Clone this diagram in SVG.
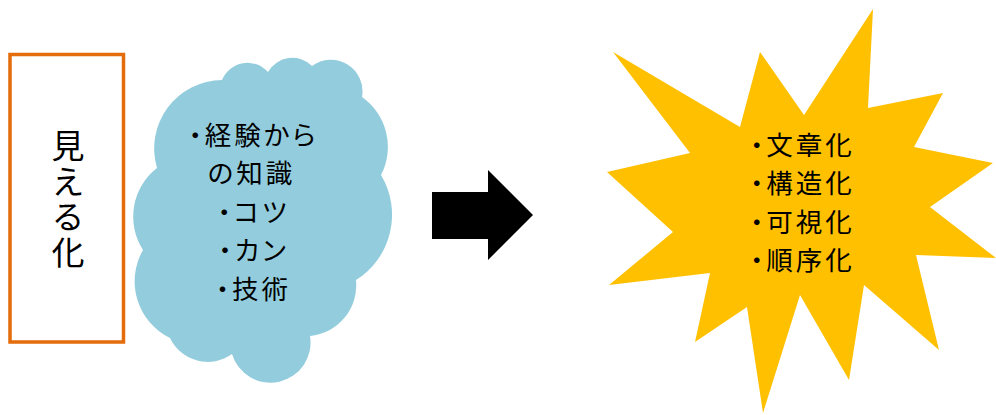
<svg xmlns="http://www.w3.org/2000/svg" width="996" height="415" viewBox="0 0 996 415">
<style>
.t{font-family:"Noto Sans CJK JP","Noto Sans CJK SC",sans-serif;fill:#000;font-feature-settings:"palt";}
.big{font-size:33px;}
.mid{font-size:26.5px;letter-spacing:3px;}
</style>
<rect width="996" height="415" fill="#fff"/>
<g id="mieruka">
<rect x="10" y="54.5" width="113.5" height="287.5" fill="#fff" stroke="#E46C0A" stroke-width="3.5"/>
<text class="t big" x="68" y="129" style="writing-mode:vertical-rl;letter-spacing:2.5px">見える化</text>
</g>
<g id="cloud">
<path fill="#93CDDD" d="M157,168 A68.5,68.5 0 0 1 222,80 A27.5,27.5 0 0 1 268,72 A27.9,27.9 0 0 1 312,66 A31.6,31.6 0 0 1 362,97 A61,61 0 0 1 381,175 A77,77 0 0 1 356,280 A51,51 0 0 1 310,336 A40.1,40.1 0 0 1 232,354 A41.6,41.6 0 0 1 170,338 A63,63 0 0 1 143,250 A61.6,61.6 0 0 1 157,168 Z"/>
<text class="t mid" text-anchor="middle"><tspan x="253.5" y="144.5">・経験から</tspan><tspan x="251.5" y="183">の知識</tspan><tspan x="253.5" y="221.5">・コツ</tspan><tspan x="253.5" y="260">・カン</tspan><tspan x="253.5" y="298.5">・技術</tspan></text>
</g>
<g id="connectors">
<path id="arrow" d="M432,192 H488 V170 L533,215 L488,260 V239 H432 Z" fill="#000"/>
</g>
<g id="burst">
<polygon fill="#FFC000" points="613,52 740,127 760,52 804,115 873,9 868,108 943,93 914,147 993,163 930,207 996,258 916,255 939,350 864,285 849,380 800,295 763,413 747,307 695,342 710,273 609,285 673,232 607,172 690,153"/>
<text class="t mid"><tspan x="750" y="154.5">・文章化</tspan><tspan x="750" y="193">・構造化</tspan><tspan x="750" y="231.5">・可視化</tspan><tspan x="750" y="270">・順序化</tspan></text>
</g>
</svg>
